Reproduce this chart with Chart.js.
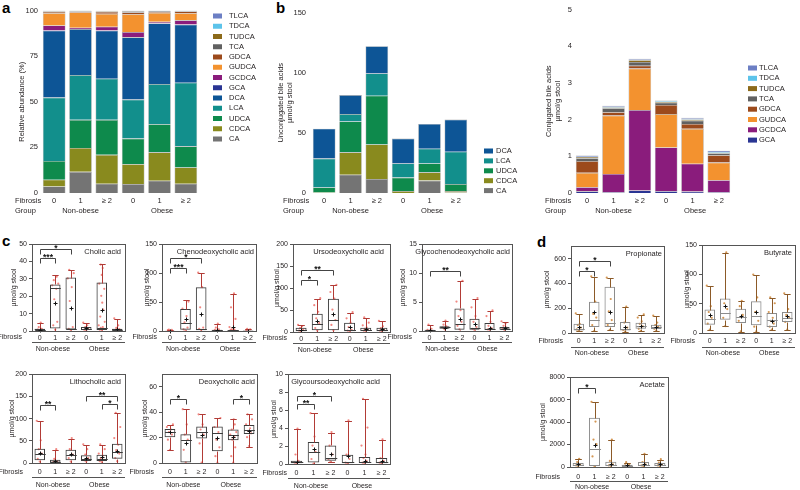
<!DOCTYPE html>
<html>
<head>
<meta charset="utf-8">
<script src="https://cdn.jsdelivr.net/npm/chart.js@4.4.1/dist/chart.umd.min.js"></script>
<style>
  body { margin: 0; background: #fff; }
  #fig { position: relative; width: 800px; height: 490px; overflow: hidden; font-family: "Liberation Sans", Arial, sans-serif; }
  #fig canvas { position: absolute; }
  .panel { position: absolute; font-weight: bold; font-size: 15px; line-height: 15px; color: #000; }
</style>
</head>
<body>
<div id="fig">
  <div class="panel" style="left:2px;top:0px">a</div>
  <div class="panel" style="left:276px;top:0px">b</div>
  <div class="panel" style="left:2px;top:233px">c</div>
  <div class="panel" style="left:537px;top:234px">d</div>
</div>
<script>
// ---- shared categories ----
const fibrosisLabels = ['0', '1', '≥ 2', '0', '1', '≥ 2'];
const groupNames = ['Non-obese', 'Obese'];

// ---- panel a: relative abundance (%) ----
const relCA    = [3.6, 11.6, 5.1, 4.9, 6.7, 5.1];
const relCDCA  = [3.7, 13.1, 15.8, 10.9, 15.6, 8.9];
const relUDCA  = [10.3, 15.4, 19.2, 14.0, 15.4, 11.6];
const relLCA   = [34.7, 24.5, 22.5, 21.4, 22.0, 34.8];
const relDCA   = [36.6, 25.2, 26.3, 34.1, 33.2, 31.8];
const relGCA   = [0.2, 0.1, 0.1, 0.2, 0.1, 0.1];
const relGCDCA = [2.7, 0.7, 2.1, 2.7, 0.8, 2.3];
const relGUDCA = [6.7, 8.3, 7.1, 9.8, 4.9, 3.9];
const relGDCA  = [0.8, 0.6, 1.1, 0.9, 0.6, 1.0];
const relTCA   = [0.3, 0.2, 0.2, 0.7, 0.5, 0.3];
const relTUDCA = [0.2, 0.2, 0.2, 0.2, 0.1, 0.1];
const relTDCA  = [0.1, 0.1, 0.1, 0.1, 0.1, 0.1];
const relTLCA  = [0.1, 0.1, 0.1, 0.1, 0.1, 0.1];

// ---- panel b: unconjugated (µmol/g stool) ----
const unCA   = [0, 15.2, 11.7, 0, 10.3, 0.5];
const unCDCA = [0.5, 18.6, 28.6, 1.6, 6.9, 1.1];
const unUDCA = [4.1, 25.6, 40.6, 11.2, 7.3, 5.8];
const unLCA  = [24.0, 6.2, 18.5, 11.7, 12.3, 26.9];
const unDCA  = [24.8, 15.8, 22.6, 20.7, 20.6, 26.7];

// ---- panel b: conjugated (µmol/g stool) ----
const conjGCA   = [0.045, 0.02, 0.07, 0.05, 0.04, 0.02];
const conjGCDCA = [0.115, 0.50, 2.19, 1.19, 0.76, 0.33];
const conjGUDCA = [0.39, 1.59, 1.13, 0.91, 0.95, 0.48];
const conjGDCA  = [0.32, 0.09, 0.08, 0.25, 0.13, 0.20];
const conjTCA   = [0.08, 0.11, 0.10, 0.06, 0.09, 0.05];
const conjTUDCA = [0.03, 0.02, 0.05, 0.02, 0.03, 0.02];
const conjTDCA  = [0.01, 0.02, 0.01, 0.02, 0.02, 0.02];
const conjTLCA  = [0.03, 0.03, 0.03, 0.02, 0.03, 0.03];

// ---- box plots: [low whisker, q1, median, q3, high whisker, mean] per group ----
const cholicStats = [[0, 0.4, 0.8, 1.3, 4.8, 0.8], [0, 1.5, 24.6, 26.8, 32, 16.3], [0, 0.8, 1.3, 30.8, 35.4, 13], [0, 0.6, 1.3, 2.3, 4.8, 1.5], [0, 0.6, 1.7, 27.9, 38.8, 11.9], [0, 0.4, 0.8, 1.3, 7.1, 1.2]];
const chenoStats  = [[0, 0.3, 0.6, 1.0, 1.5, 0.6], [0, 2.3, 14.4, 38, 54, 20], [0, 1.2, 4, 75.6, 101, 28.8], [0, 0.5, 1, 2.3, 12.7, 2], [0, 0.5, 1, 1.7, 64.6, 7], [0, 0.3, 0.6, 1.2, 2.9, 0.8]];
const ursoStats   = [[0, 1.5, 3.8, 9.9, 15.2, 5], [0, 3.8, 19, 41.8, 76, 25.9], [0, 3.8, 26.6, 76, 106.5, 40.3], [0, 1.5, 3.8, 21.3, 44, 11.4], [0, 2.3, 5.3, 9.9, 32.7, 7.6], [0, 1.5, 3.8, 9.9, 24.3, 6]];
const gcdcaStats  = [[0, 0.06, 0.15, 0.23, 1.1, 0.2], [0, 0.4, 0.63, 0.8, 1.7, 0.6], [0, 0.23, 1.27, 3.9, 8.6, 2.1], [0, 0.23, 0.5, 2.1, 5.6, 1.27], [0, 0.17, 0.3, 1.4, 3.5, 0.5], [0, 0.23, 0.4, 0.7, 1.6, 0.5]];
const lithoStats  = [[0, 6, 21, 32.3, 94, 22.5], [0, 0.8, 3, 7.5, 30, 4.5], [0, 6, 17.3, 30, 55, 19.5], [0, 4.5, 9.8, 17.3, 41.3, 12], [0, 4.5, 9.8, 18.8, 41.3, 13.5], [0, 9.8, 24.8, 43.6, 112.8, 26.3]];
const deoxyStats  = [[10.1, 20.2, 24.7, 26.8, 29.7, 24.2], [0, 0, 18, 22.6, 42.5, 15.4], [0, 19.4, 24.2, 28.7, 38.5, 22], [0, 9.3, 23.4, 28.7, 35.8, 19.9], [0, 18, 22, 26.5, 34.5, 20.2], [12.7, 22.8, 26, 30, 38.5, 25.5]];
const gudcaStats  = [[0, 0.07, 0.18, 0.37, 3.87, 0.2], [0, 0.18, 1.33, 2.44, 5.65, 1.66], [0.18, 0.37, 0.66, 2.07, 3.5, 1.1], [0, 0.07, 0.18, 1.03, 4.8, 0.9], [0, 0.11, 0.26, 0.77, 7.2, 0.37], [0, 0.07, 0.18, 0.66, 2.7, 0.3]];
const propStats   = [[13, 21, 35, 75, 155, 45], [13, 48, 101, 253, 453, 168], [21, 48, 83, 373, 443, 168], [8, 21, 35, 88, 208, 48], [13, 35, 53, 83, 147, 53], [16, 32, 48, 67, 136, 48]];
const butyStats   = [[4.6, 14.3, 24.5, 40, 79.9, 31.4], [11.4, 22.8, 34.8, 58.8, 137.5, 46.2], [1.7, 17.1, 27.4, 41.6, 54.2, 28.5], [1.7, 13.1, 28.5, 54.2, 98.7, 35.9], [4.6, 10.3, 21.7, 34.2, 59.9, 20], [4.6, 18.8, 26.2, 35.9, 67.3, 29.1]];
const acetStats   = [[30, 90, 209, 358, 687, 299], [30, 90, 1642, 4388, 5761, 2000], [30, 90, 149, 478, 2388, 300], [30, 60, 119, 209, 388, 150], [30, 90, 149, 448, 1134, 300], [30, 90, 209, 358, 657, 230]];

// ---- individual samples ----
const cholicDots = [[0, 0.5, 1, 2, 4.5], [0.5, 3, 5, 18, 24, 26, 27, 29, 31], [0.3, 1, 2, 17, 25, 30, 33, 35], [0, 0.5, 1, 2, 3, 4.5], [0.2, 0.5, 1, 1.5, 2, 3, 5, 8, 12, 16, 20, 24, 27, 32, 36, 38], [0, 0.3, 0.8, 1.5, 3, 7]];
const chenoDots  = [[0, 0.5, 1, 1.5], [0, 2, 5, 14, 25, 38, 50], [1, 3, 5, 40, 75, 100], [0, 1, 2, 5, 12], [0, 0.5, 1, 2, 3, 6, 20, 40, 64], [0, 1, 2, 3]];
const ursoDots   = [[0, 2, 4, 8, 12, 15], [2, 8, 19, 30, 45, 60, 76], [3, 15, 26, 50, 75, 90, 106], [0, 2, 4, 10, 20, 30, 44], [0, 2, 4, 6, 9, 14, 20, 32], [0, 2, 4, 8, 12, 24]];
const gcdcaDots  = [[0, 0.1, 0.3, 1], [0.2, 0.5, 0.7, 1, 1.7], [0.2, 0.8, 1.5, 2.5, 3.5, 5, 8.6], [0.1, 0.3, 0.6, 1.5, 2.5, 4, 5.6], [0.1, 0.2, 0.4, 0.8, 1.5, 2.5, 3.5], [0.1, 0.3, 0.5, 0.8, 1.2, 1.6]];
const lithoDots  = [[2, 8, 20, 30, 50, 94], [0, 1, 3, 8, 30], [2, 10, 18, 30, 55], [2, 5, 10, 18, 30, 41], [1, 3, 6, 10, 15, 20, 30, 41], [3, 10, 20, 28, 40, 55, 80, 112]];
const deoxyDots  = [[10, 18, 22, 24, 26, 28, 30], [0, 10, 18, 22, 30, 42], [0, 15, 22, 26, 30, 38], [0, 5, 12, 18, 24, 28, 35], [0, 5, 12, 18, 20, 22, 24, 26, 30, 34], [13, 20, 23, 25, 27, 30, 34, 38]];
const gudcaDots  = [[0, 0.1, 0.3, 1, 3.9], [0, 0.5, 1.3, 2, 3, 5.6], [0.2, 0.5, 1, 2, 3.5], [0, 0.1, 0.5, 1, 4.8], [0, 0.1, 0.3, 0.6, 1, 2, 4, 7.2], [0, 0.1, 0.3, 0.6, 2.7]];
const propDots   = [[13, 25, 40, 60, 70, 155], [13, 60, 120, 150, 250, 453], [21, 60, 100, 170, 270, 443], [8, 20, 40, 80, 208], [13, 30, 50, 70, 90, 120, 147], [16, 30, 45, 60, 80, 136]];
const butyDots   = [[5, 15, 25, 35, 45, 80], [11, 25, 40, 50, 137], [2, 20, 30, 45, 54], [2, 10, 20, 35, 60, 99], [5, 10, 15, 20, 25, 35, 50, 60], [5, 18, 25, 30, 40, 67]];
const acetDots   = [[30, 100, 200, 400, 687], [30, 900, 2000, 2400, 4000, 5761], [50, 100, 200, 500, 2388], [30, 100, 200, 388], [30, 100, 200, 400, 1134], [30, 100, 200, 350, 657]];

// ---- significance brackets: [from group, to group, level, stars] ----
const cholicSig = [[0, 1, 42.3, '***'], [0, 2, 47.5, '*']];
const chenoSig  = [[0, 1, 109.6, '***'], [0, 2, 127, '*']];
const ursoSig   = [[0, 1, 119.4, '*'], [0, 2, 142, '**']];
const gcdcaSig  = [[0, 2, 10.3, '**']];
const lithoSig  = [[0, 1, 131.6, '**'], [3, 5, 151, '**'], [4, 5, 133.8, '*']];
const deoxySig  = [[0, 1, 50.4, '*'], [4, 5, 50.4, '*']];
const gudcaSig  = [[0, 1, 6.64, '**'], [0, 2, 7.6, '*']];
const propSig   = [[0, 1, 501, '*'], [0, 2, 581, '*']];
const acetSig   = [[0, 1, 7015, '*']];

// colours
const col = {
  TLCA: '#6c7fc4', TDCA: '#5cc3ea', TUDCA: '#8c6a1a', TCA: '#616161', GDCA: '#9c4a1c',
  GUDCA: '#f3922f', GCDCA: '#8a1c7c', GCA: '#2a3593', DCA: '#0d5596', LCA: '#128f8c',
  UDCA: '#0e8a4c', CDCA: '#898a1e', CA: '#747474'
};
const themeBA   = { box: '#3c3c3c', whisker: '#b23b36', median: '#3c3c3c', dot: 'rgba(238,105,98,0.8)' };
const themeSCFA = { box: '#8c8c8c', whisker: '#8c5a28', median: '#8c8c8c', dot: 'rgba(204,132,52,0.85)' };
const TXT = '#231f20';
const FONT = '"Liberation Sans", Arial, sans-serif';

Chart.defaults.font.family = FONT;
Chart.defaults.font.size = 7;
Chart.defaults.color = TXT;

const fig = document.getElementById('fig');
function addCanvas(x, y, w, h) {
  const c = document.createElement('canvas');
  c.width = w; c.height = h;
  c.style.left = x + 'px'; c.style.top = y + 'px';
  c.style.width = w + 'px'; c.style.height = h + 'px';
  fig.appendChild(c);
  return c;
}
const half = v => Math.round(v) + 0.5;

// Fibrosis / Group rows + legend for the stacked panels
const stackExtras = {
  id: 'stackExtras',
  afterDraw(chart, args, o) {
    const { ctx, chartArea: a, scales: { x } } = chart;
    const step = x.getPixelForValue(1) - x.getPixelForValue(0);
    ctx.save();
    ctx.font = '7.5px ' + FONT;
    ctx.fillStyle = TXT;
    ctx.textBaseline = 'middle';
    ctx.textAlign = 'left';
    ctx.fillText('Fibrosis', o.textX, a.bottom + 7.5);
    ctx.fillText('Group', o.textX, a.bottom + 18);
    ctx.textAlign = 'center';
    ctx.fillText(groupNames[0], x.getPixelForValue(0) + step, a.bottom + 18);
    ctx.fillText(groupNames[1], x.getPixelForValue(0) + step * 4.1, a.bottom + 18);
    // legend, top item first
    const ds = chart.data.datasets.slice().reverse();
    ds.forEach((d, k) => {
      const y = o.legendY + k * o.legendDy;
      ctx.fillStyle = d.backgroundColor;
      ctx.fillRect(o.boxX, y - 2.5, 9, 5);
      ctx.fillStyle = TXT;
      ctx.textAlign = 'left';
      ctx.fillText(d.label, o.labelX, y);
    });
    ctx.restore();
  }
};

function stackChart(o) {
  const cx = o.plot.l - o.yW, cy = o.plot.t - 6;
  const xH = 24;
  const c = addCanvas(cx, cy, o.canvasR - cx, o.plot.b + xH - cy);
  return new Chart(c, {
    type: 'bar',
    data: {
      labels: fibrosisLabels,
      datasets: o.series.map(([name, data]) => ({
        label: name, data: data, backgroundColor: col[name],
        borderColor: 'rgba(60,60,60,0.45)', borderWidth: 0.6,
        barPercentage: 0.86, categoryPercentage: 1
      }))
    },
    options: {
      responsive: false, animation: false, devicePixelRatio: 1,
      layout: { padding: { left: 0, top: 6, right: o.canvasR - o.plot.r, bottom: 0 } },
      plugins: {
        legend: { display: false }, tooltip: { enabled: false },
        stackExtras: {
          textX: o.textX - cx, boxX: o.boxX - cx, labelX: o.labelX - cx,
          legendY: o.legendY - cy, legendDy: o.legendDy
        }
      },
      scales: {
        x: {
          stacked: true, grid: { display: false, drawTicks: false }, border: { display: false },
          ticks: { padding: 3, font: { size: 7.5 }, maxRotation: 0, minRotation: 0, autoSkip: false },
          afterFit: s => { s.height = xH; }
        },
        y: {
          stacked: true, min: 0, max: o.max,
          grid: { display: false, drawTicks: false }, border: { display: false },
          ticks: { stepSize: o.step, padding: o.tickPad, font: { size: 7.5 } },
          title: { display: true, text: o.title, font: { size: 7.5 }, padding: { top: o.titlePad, bottom: 0 } },
          afterFit: s => { s.width = o.yW; }
        }
      }
    },
    plugins: [stackExtras]
  });
}

// whiskers, medians, means, samples, brackets, frame and labels for box plots
const jitter = [0, -2, 2, -1, 1, -3, 3, -1.5, 1.5, 0.5, -0.5, 2.5, -2.5, 0, 1, -1];
const boxExtras = {
  id: 'boxExtras',
  beforeDatasetsDraw(chart, args, o) {
    const { ctx, scales: { x, y } } = chart;
    ctx.save();
    ctx.fillStyle = o.theme.dot;
    o.dots.forEach((vals, i) => {
      const px = x.getPixelForValue(i);
      vals.forEach((v, k) => {
        ctx.beginPath();
        ctx.arc(px + jitter[k % jitter.length], y.getPixelForValue(v) - 0.5, 1.1, 0, Math.PI * 2);
        ctx.fill();
      });
    });
    ctx.restore();
  },
  afterDatasetsDraw(chart, args, o) {
    const { ctx, scales: { x, y } } = chart;
    const th = o.theme;
    const bw = chart.getDatasetMeta(0).data[0].width;
    ctx.save();
    ctx.lineWidth = 1;
    o.stats.forEach((s, i) => {
      const px = half(x.getPixelForValue(i));
      const [lo, q1, med, q3, hi, mean] = s.map(v => half(y.getPixelForValue(v)));
      const cap = bw * 0.3;
      ctx.strokeStyle = th.whisker;
      ctx.beginPath();
      ctx.moveTo(px, q3); ctx.lineTo(px, hi);
      ctx.moveTo(px - cap, hi); ctx.lineTo(px + cap, hi);
      ctx.moveTo(px, q1); ctx.lineTo(px, lo);
      ctx.moveTo(px - cap, lo); ctx.lineTo(px + cap, lo);
      ctx.stroke();
      ctx.strokeStyle = th.median;
      ctx.beginPath();
      ctx.moveTo(px - bw / 2, med); ctx.lineTo(px + bw / 2, med);
      ctx.stroke();
      ctx.strokeStyle = '#111';
      ctx.beginPath();
      ctx.moveTo(px - 2, mean); ctx.lineTo(px + 2, mean);
      ctx.moveTo(px, mean - 2); ctx.lineTo(px, mean + 2);
      ctx.stroke();
    });
    // brackets
    ctx.strokeStyle = '#444';
    ctx.fillStyle = '#111';
    ctx.font = 'bold 8.5px ' + FONT;
    ctx.textAlign = 'center';
    ctx.textBaseline = 'alphabetic';
    o.sig.forEach(([i, j, v, t]) => {
      const x1 = half(x.getPixelForValue(i)), x2 = half(x.getPixelForValue(j));
      const yy = half(y.getPixelForValue(v));
      ctx.beginPath();
      ctx.moveTo(x1, yy + 5); ctx.lineTo(x1, yy); ctx.lineTo(x2, yy); ctx.lineTo(x2, yy + 5);
      ctx.stroke();
      ctx.fillText(t, (x1 + x2) / 2, yy + 1);
    });
    ctx.restore();
  },
  afterDraw(chart, args, o) {
    const { ctx, chartArea: a, scales: { x } } = chart;
    const step = x.getPixelForValue(1) - x.getPixelForValue(0);
    ctx.save();
    ctx.strokeStyle = '#555';
    ctx.lineWidth = 1;
    ctx.strokeRect(half(a.left), half(a.top), Math.round(a.right - a.left), Math.round(a.bottom - a.top));
    ctx.fillStyle = TXT;
    ctx.font = '7.5px ' + FONT;
    ctx.textBaseline = 'middle';
    ctx.textAlign = 'right';
    ctx.fillText(o.title, a.right - o.titleDx, a.top + 8);
    ctx.font = '7px ' + FONT;
    ctx.fillText('Fibrosis', a.left - o.fibDx, a.bottom + o.tickDy);
    ctx.beginPath();
    ctx.moveTo(a.left, half(a.bottom + o.lineDy));
    ctx.lineTo(a.right, half(a.bottom + o.lineDy));
    ctx.stroke();
    ctx.textAlign = 'center';
    ctx.fillText(groupNames[0], x.getPixelForValue(0) + step * 0.85, a.bottom + o.groupDy);
    ctx.fillText(groupNames[1], x.getPixelForValue(0) + step * 3.85, a.bottom + o.groupDy);
    ctx.restore();
  }
};

function boxChart(o) {
  const yW = 32, padL = 8;
  const cx = o.plot.l - yW - padL, cy = o.plot.t - 6;
  const c = addCanvas(cx, cy, o.plot.r + 3 - cx, o.plot.b + o.below - cy);
  return new Chart(c, {
    type: 'bar',
    data: {
      labels: fibrosisLabels,
      datasets: [{
        data: o.stats.map(s => [s[1], s[3]]),
        backgroundColor: 'rgba(255,255,255,0)', borderColor: o.theme.box,
        borderWidth: 1, borderSkipped: false,
        barPercentage: 0.68, categoryPercentage: 1
      }]
    },
    options: {
      responsive: false, animation: false, devicePixelRatio: 1,
      layout: { padding: { left: padL, top: 6, right: 3, bottom: 0 } },
      plugins: {
        legend: { display: false }, tooltip: { enabled: false },
        boxExtras: {
          stats: o.stats, dots: o.dots, sig: o.sig, theme: o.theme, title: o.title,
          titleDx: o.titleDx || 4, fibDx: o.fibDx || 8,
          tickDy: o.tickDy, lineDy: o.lineDy, groupDy: o.groupDy
        }
      },
      scales: {
        x: {
          grid: { display: false, drawTicks: false }, border: { display: false },
          ticks: { padding: o.tickPad, font: { size: 7 }, maxRotation: 0, minRotation: 0, autoSkip: false },
          afterFit: s => { s.height = o.below; }
        },
        y: {
          min: 0, max: o.max,
          afterBuildTicks: s => {
            s.ticks = s.ticks.filter(t => Math.abs(t.value / o.step - Math.round(t.value / o.step)) < 1e-6);
          },
          ticks: { stepSize: o.step, padding: 2, font: { size: 7 }, callback: v => String(v) },
          grid: { drawOnChartArea: false, tickLength: 3, color: '#555' },
          border: { color: '#555' },
          title: { display: true, text: 'µmol/g stool', font: { size: 7 }, padding: { top: o.titlePad, bottom: 0 } },
          afterFit: s => { s.width = yW; }
        }
      }
    },
    plugins: [boxExtras]
  });
}

// ---- panel a ----
stackChart({
  plot: { l: 41, t: 9, r: 199, b: 193 }, yW: 41, canvasR: 258,
  max: 100, step: 25, title: 'Relative abundance (%)', titlePad: 17, tickPad: 3,
  textX: 15, boxX: 213, labelX: 229, legendY: 16, legendDy: 10.25,
  series: [['CA', relCA], ['CDCA', relCDCA], ['UDCA', relUDCA], ['LCA', relLCA], ['DCA', relDCA],
           ['GCA', relGCA], ['GCDCA', relGCDCA], ['GUDCA', relGUDCA], ['GDCA', relGDCA],
           ['TCA', relTCA], ['TUDCA', relTUDCA], ['TDCA', relTDCA], ['TLCA', relTLCA]]
});

// ---- panel b, unconjugated ----
stackChart({
  plot: { l: 311, t: 9, r: 469, b: 193 }, yW: 46, canvasR: 528,
  max: 150, step: 50, title: ['Unconjugated bile acids', 'µmol/g stool'], titlePad: 11, tickPad: 5,
  textX: 283, boxX: 484, labelX: 496, legendY: 151, legendDy: 9.9,
  series: [['CA', unCA], ['CDCA', unCDCA], ['UDCA', unUDCA], ['LCA', unLCA], ['DCA', unDCA]]
});

// ---- panel b, conjugated ----
stackChart({
  plot: { l: 574, t: 9, r: 732, b: 193 }, yW: 39, canvasR: 800,
  max: 5, step: 1, title: ['Conjugated bile acids', 'µmol/g stool'], titlePad: 9.5, tickPad: 2,
  textX: 545, boxX: 748, labelX: 759, legendY: 68, legendDy: 10.3,
  series: [['GCA', conjGCA], ['GCDCA', conjGCDCA], ['GUDCA', conjGUDCA], ['GDCA', conjGDCA],
           ['TCA', conjTCA], ['TUDCA', conjTUDCA], ['TDCA', conjTDCA], ['TLCA', conjTLCA]]
});

// ---- panel c, row 1 ----
const row1 = { below: 24, tickPad: 2.5, tickDy: 6.5, lineDy: 11, groupDy: 18 };
boxChart({ ...row1, plot: { l: 32, t: 244, r: 125, b: 331 }, max: 50, step: 10, titlePad: 10,
  title: 'Cholic acid', stats: cholicStats, dots: cholicDots, sig: cholicSig, theme: themeBA, fibDx: 10 });
boxChart({ ...row1, plot: { l: 162, t: 244, r: 256, b: 331 }, max: 150, step: 50, titlePad: 13,
  title: 'Chenodeoxycholic acid', stats: chenoStats, dots: chenoDots, sig: chenoSig, theme: themeBA, fibDx: 5, titleDx: 2 });
boxChart({ ...row1, plot: { l: 293, t: 244, r: 390, b: 332 }, max: 200, step: 50, titlePad: 12,
  title: 'Ursodeoxycholic acid', stats: ursoStats, dots: ursoDots, sig: ursoSig, theme: themeBA, fibDx: 6, titleDx: 6 });
boxChart({ ...row1, plot: { l: 422, t: 244, r: 512, b: 331 }, max: 15, step: 5, titlePad: 9,
  title: 'Glycochenodeoxycholic acid', stats: gcdcaStats, dots: gcdcaDots, sig: gcdcaSig, theme: themeBA, fibDx: 10, titleDx: 2 });

// ---- panel c, row 2 ----
const row2 = { below: 27, tickPad: 5, tickDy: 9, lineDy: 14, groupDy: 22 };
boxChart({ ...row2, plot: { l: 32, t: 374, r: 125, b: 463 }, max: 200, step: 50, titlePad: 8,
  title: 'Lithocholic acid', stats: lithoStats, dots: lithoDots, sig: lithoSig, theme: themeBA, fibDx: 9 });
boxChart({ ...row2, plot: { l: 162, t: 374, r: 257, b: 463 }, max: 70, step: 20, titlePad: 11,
  title: 'Deoxycholic acid', stats: deoxyStats, dots: deoxyDots, sig: deoxySig, theme: themeBA, fibDx: 8, titleDx: 2 });
boxChart({ ...row2, plot: { l: 288, t: 374, r: 390, b: 464 }, max: 10, step: 2, titlePad: 14,
  title: 'Glycoursodeoxycholic acid', stats: gudcaStats, dots: gudcaDots, sig: gudcaSig, theme: themeBA, fibDx: 1, titleDx: 10 });

// ---- panel d ----
const rowD = { below: 24, tickPad: 4, tickDy: 8, lineDy: 14, groupDy: 20 };
boxChart({ ...rowD, plot: { l: 571, t: 246, r: 664, b: 333 }, max: 700, step: 200, titlePad: 4,
  title: 'Propionate', stats: propStats, dots: propDots, sig: propSig, theme: themeSCFA, fibDx: 8, titleDx: 2 });
boxChart({ ...rowD, plot: { l: 702, t: 245, r: 795, b: 333 }, max: 150, step: 50, titlePad: 13,
  title: 'Butyrate', stats: butyStats, dots: butyDots, sig: [], theme: themeSCFA, fibDx: 7, titleDx: 3 });
boxChart({ below: 23, tickPad: 6, tickDy: 10, lineDy: 14, groupDy: 20,
  plot: { l: 570, t: 377, r: 668, b: 467 }, max: 8000, step: 2000, titlePad: 1,
  title: 'Acetate', stats: acetStats, dots: acetDots, sig: acetSig, theme: themeSCFA, fibDx: 10, titleDx: 3 });
</script>
</body>
</html>
